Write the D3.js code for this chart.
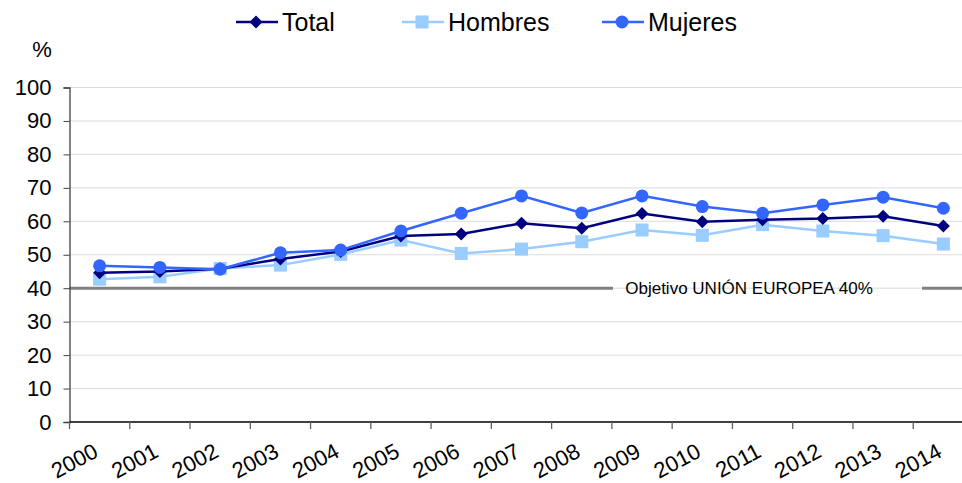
<!DOCTYPE html>
<html>
  <head>
    <script src="https://d3js.org/d3.v7.min.js"></script>
    <style>
      html, body { margin:0; padding:0; background:#fff; }
      svg text { font-family: "Liberation Sans", Arial, sans-serif; }
    </style>
  </head>
  <body>
    <div id="chart"></div>
    <script>
      var years = ["2000","2001","2002","2003","2004","2005","2006","2007","2008","2009","2010","2011","2012","2013","2014"];
      var total   = [44.6, 45.0, 45.8, 48.7, 51.0, 55.6, 56.2, 59.4, 57.9, 62.3, 59.9, 60.5, 60.8, 61.5, 58.6];
      var hombres = [42.7, 43.4, 45.9, 46.9, 50.1, 54.4, 50.4, 51.7, 53.9, 57.4, 55.8, 59.0, 57.1, 55.7, 53.2];
      var mujeres = [46.7, 46.2, 45.7, 50.6, 51.4, 57.1, 62.4, 67.6, 62.5, 67.6, 64.4, 62.4, 64.9, 67.2, 63.9];
      var yTicks = [0, 10, 20, 30, 40, 50, 60, 70, 80, 90, 100];
      var objetivo = 40;

      var series = [
        { name: "Total",   values: total,   color: "#000080", marker: "diamond" },
        { name: "Hombres", values: hombres, color: "#99ccff", marker: "square" },
        { name: "Mujeres", values: mujeres, color: "#3366ff", marker: "circle" }
      ];

      var W = 962, H = 483;
      var mLeft = 69.5, mRight = 973.5, mTop = 87.5, mBottom = 422;

      var svg = d3.select("#chart").append("svg")
        .attr("width", W).attr("height", H);

      var x = d3.scaleBand().domain(years).range([mLeft, mRight]);
      var y = d3.scaleLinear().domain([0, 100]).range([mBottom, mTop]);

      // gridlines
      svg.append("g").selectAll("line").data(yTicks.filter(d => d > 0)).join("line")
        .attr("x1", mLeft).attr("x2", W)
        .attr("y1", d => y(d)).attr("y2", d => y(d))
        .attr("stroke", "#b8b8b8").attr("stroke-width", 1)
        .attr("stroke-dasharray", "1,1");

      // objective line with a gap for its label
      var objY = y(objetivo);
      svg.append("line").attr("x1", mLeft).attr("x2", 613).attr("y1", objY).attr("y2", objY)
        .attr("stroke", "#808080").attr("stroke-width", 3);
      svg.append("line").attr("x1", 922).attr("x2", W).attr("y1", objY).attr("y2", objY)
        .attr("stroke", "#808080").attr("stroke-width", 3);
      svg.append("text").attr("x", 749).attr("y", objY + 6)
        .attr("text-anchor", "middle").attr("font-size", 17).attr("fill", "#000")
        .text("Objetivo UNIÓN EUROPEA 40%");

      // y axis
      var yAxis = d3.axisLeft(y).tickValues(yTicks).tickSize(6).tickPadding(12);
      var gy = svg.append("g").attr("transform", "translate(" + mLeft + ",0)").call(yAxis);
      gy.select(".domain").attr("stroke", "#404040").attr("stroke-width", 1.3);
      gy.selectAll(".tick line").attr("stroke", "#404040");
      gy.selectAll(".tick text").attr("font-size", 22).attr("fill", "#000")
        .attr("font-family", "Liberation Sans, Arial, sans-serif");

      // x axis
      var gx = svg.append("g").attr("transform", "translate(0," + mBottom + ")");
      gx.append("line").attr("x1", mLeft).attr("x2", W).attr("y1", 0).attr("y2", 0)
        .attr("stroke", "#000").attr("stroke-width", 1.3);
      gx.selectAll("line.tk").data(years).join("line").attr("class", "tk")
        .attr("x1", d => x(d)).attr("x2", d => x(d)).attr("y1", 0).attr("y2", 7)
        .attr("stroke", "#606060").attr("stroke-width", 1.3);
      gx.selectAll("text").data(years).join("text")
        .attr("text-anchor", "end").attr("font-size", 22).attr("fill", "#000")
        .attr("transform", d => "translate(" + (x(d) + x.bandwidth() / 2) + ",34) rotate(-28)")
        .text(d => d);

      // % label
      svg.append("text").attr("x", 42).attr("y", 57).attr("text-anchor", "middle")
        .attr("font-size", 22).attr("fill", "#000").text("%");

      var cx = d => x(d) + x.bandwidth() / 2;
      var line = d3.line().x((v, i) => cx(years[i])).y(v => y(v));

      function drawMarker(g, type, color) {
        if (type === "circle") {
          g.append("circle").attr("r", 6.5).attr("fill", color);
        } else if (type === "square") {
          g.append("rect").attr("x", -6.5).attr("y", -6.5).attr("width", 13).attr("height", 13).attr("fill", color);
        } else {
          g.append("path").attr("d", "M0,-6.5L6.5,0L0,6.5L-6.5,0Z").attr("fill", color);
        }
      }

      // draw in order: Hombres, Total, Mujeres
      [series[1], series[0], series[2]].forEach(function(s) {
        svg.append("path").datum(s.values).attr("d", line)
          .attr("fill", "none").attr("stroke", s.color).attr("stroke-width", 2.5);
        s.values.forEach(function(v, i) {
          var g = svg.append("g").attr("transform", "translate(" + cx(years[i]) + "," + y(v) + ")");
          drawMarker(g, s.marker, s.color);
        });
      });

      // legend
      var legendPos = [236, 402, 602];
      series.forEach(function(s, i) {
        var lg = svg.append("g").attr("transform", "translate(" + legendPos[i] + ",22)");
        lg.append("line").attr("x1", 0).attr("x2", 42).attr("y1", 0).attr("y2", 0)
          .attr("stroke", s.color).attr("stroke-width", 2.5);
        var m = lg.append("g").attr("transform", "translate(20,0)");
        drawMarker(m, s.marker, s.color);
        lg.append("text").attr("x", 46).attr("y", 9).attr("font-size", 25).attr("fill", "#000").text(s.name);
      });
    </script>
  </body>
</html>
